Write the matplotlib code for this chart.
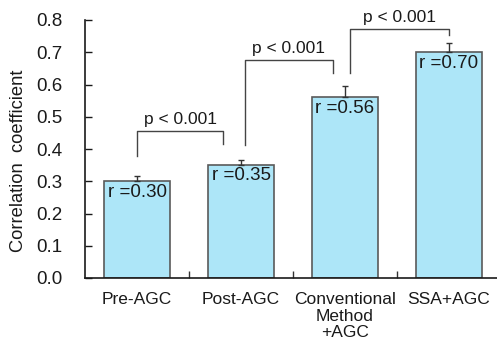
import matplotlib.pyplot as plt
import numpy as np

plt.rcParams["font.family"] = ["Liberation Sans", "DejaVu Sans"]

# data
categories = ["Pre-AGC", "Post-AGC", "Conventional\nMethod\n+AGC", "SSA+AGC"]
r_values = [0.30, 0.35, 0.56, 0.70]
r_errors = [0.016, 0.016, 0.035, 0.030]
r_labels = ["r =0.30", "r =0.35", "r =0.56", "r =0.70"]
y_ticks = [0.0, 0.1, 0.2, 0.3, 0.4, 0.5, 0.6, 0.7, 0.8]

# significance brackets: (x_left, x_right, y_left_bottom, y_right_bottom, y_top)
brackets = [
    (0.0, 0.83, 0.378, 0.415, 0.456),
    (1.04, 1.88, 0.412, 0.637, 0.676),
    (2.05, 3.0, 0.635, 0.753, 0.771),
]
p_text = "p < 0.001"

fig = plt.figure(figsize=(4.97, 3.43), dpi=100)
ax = fig.add_axes([85 / 497, 1 - 278 / 343, 416 / 497, 258 / 343])

x = np.arange(len(categories))
ax.bar(x, r_values, width=0.63, color="#ade6f8", edgecolor="#5a5a5a", linewidth=1.2, zorder=2)
ax.errorbar(x, r_values, yerr=[np.zeros(len(x)), r_errors], fmt="none",
            ecolor="#333333", elinewidth=1, capsize=2, capthick=1, zorder=3)

for xi, v, lab in zip(x, r_values, r_labels):
    ax.text(xi, v - 0.007, lab, ha="center", va="top", fontsize=13.5, color="#1a1a1a", zorder=4)

for xl, xr, yl, yr, yt in brackets:
    ax.plot([xl, xl, xr, xr], [yl, yt, yt, yr], color="#444444", lw=1, zorder=3)
    ax.text((xl + xr) / 2, yt + 0.012, p_text, ha="center", va="bottom", fontsize=12.5, color="#1a1a1a")

ax.set_xlim(-0.5, 3.5)
ax.set_ylim(0, 0.8)
ax.set_yticks(y_ticks)
ax.set_yticklabels([f"{t:.1f}" for t in y_ticks])
ax.set_xticks(x)
ax.set_xticklabels(categories, linespacing=1.15)
ax.set_xticks(x[:-1] + 0.5, minor=True)
ax.tick_params(axis="x", which="major", length=0, pad=10, labelsize=12.5, colors="#1a1a1a")
ax.tick_params(axis="x", which="minor", direction="in", length=5, width=1, color="#333333")
ax.tick_params(axis="y", direction="in", length=5, width=1, pad=16, labelsize=13.5, colors="#1a1a1a")

for side in ["top", "right"]:
    ax.spines[side].set_visible(False)
for side in ["left", "bottom"]:
    ax.spines[side].set_linewidth(1.2)
    ax.spines[side].set_color("#1a1a1a")

ax.set_ylabel("Correlation  coefficient", fontsize=13.2, color="#1a1a1a")
ax.yaxis.set_label_coords(-0.139, 0.455)

fig.savefig("out.png", dpi=100)
